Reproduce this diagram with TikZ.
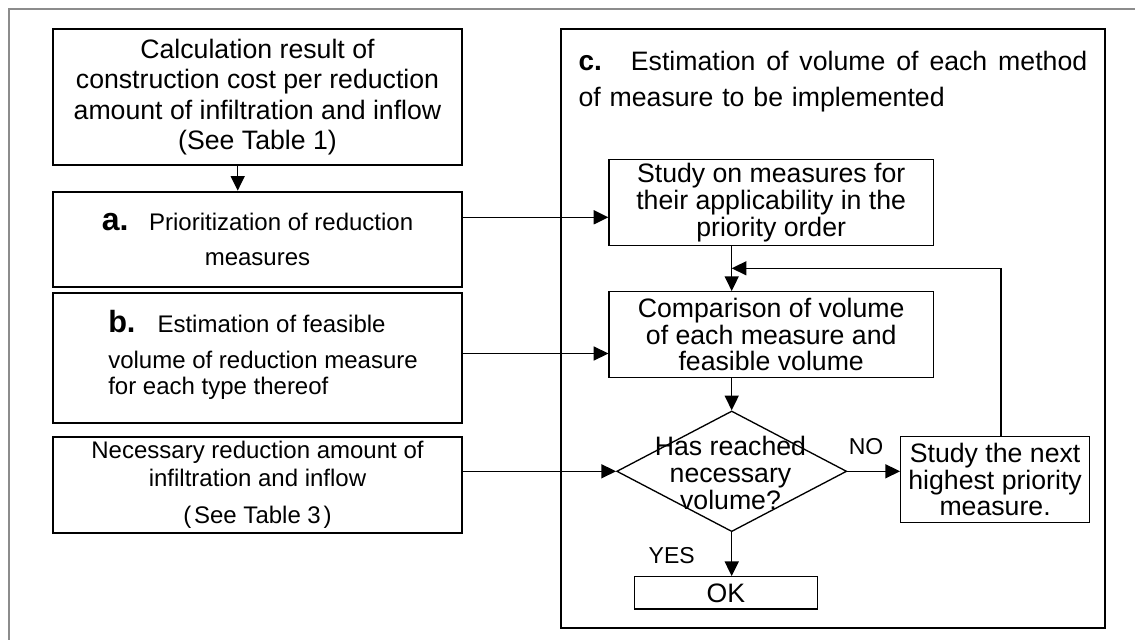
\documentclass[tikz,border=0pt]{standalone}
\usepackage{fontspec}
\setmainfont{Liberation Sans}
\usetikzlibrary{shapes.geometric,arrows.meta,calc}
\definecolor{framegray}{RGB}{140,140,140}
\begin{document}
\begin{tikzpicture}[x=0.75pt,y=-0.75pt,
  lbox/.style={draw, line width=1.5pt, rectangle, minimum width=306.3pt, inner sep=0pt, align=center},
  rbox/.style={draw, line width=1pt, rectangle, inner sep=0pt, align=center, font=\fontsize{20}{20}\selectfont},
  arr/.style={line width=1.1pt, -{Triangle[length=11pt,width=10.5pt]}},
  lbl/.style={inner sep=0pt, font=\fontsize{17.25}{17.25}\selectfont}]
\clip (0,0) rectangle (1135,639);
\fill[white] (0,0) rectangle (1135,639);
\draw[line width=1.5pt, framegray] (9,9.3) rectangle (1160,670);

% left column
\node[lbox, minimum height=101.8pt, font=\fontsize{20}{22.9}\selectfont] (calc) at (257.5,97.2)
  {Calculation result of\\construction cost per reduction\\amount of infiltration and inflow\\(See Table 1)};
\node[lbox, minimum height=71.7pt, font=\fontsize{18}{26.25}\selectfont] (prio) at (257.5,239.5)
  {{\fontsize{24}{24}\selectfont\bfseries a.}\hspace{15.5pt}Prioritization of reduction\\measures};
\node[lbox, minimum height=97.05pt] (feas) at (257.5,358) {};
\node[inner sep=0pt, align=left, font=\fontsize{18}{19.5}\selectfont] (feastext) at (263,355)
  {{\fontsize{23}{23}\selectfont\bfseries b.}\hspace{16.5pt}Estimation of feasible\\[8pt]volume of reduction measure\\for each type thereof};
\node[lbox, minimum height=72pt, font=\fontsize{18}{21.3}\selectfont] (nec) at (257.5,484.7)
  {Necessary reduction amount of\\infiltration and inflow\\[6pt](\kern2pt See Table 3\kern2pt)};

% right frame c
\node[draw, line width=1.5pt, rectangle, minimum width=408pt, minimum height=449.25pt, inner sep=0pt] (cbox) at (833,328.5) {};
\node[anchor=north west, inner sep=0pt, align=left, text width=381.5pt, font=\fontsize{20}{27}\selectfont] (ctitle) at (578.3,51)
  {\makebox[381.5pt][l]{{\fontsize{21}{21}\selectfont\bfseries c.}\hspace{21.75pt}Estimation\hfill of\hfill volume\hfill of\hfill each\hfill method}\\of measure to be implemented};

\node[rbox, minimum width=243.2pt, minimum height=64.8pt] (study) at (771.2,202.5)
  {Study on measures for\\their applicability in the\\priority order};
\node[rbox, minimum width=243.2pt, minimum height=64.5pt] (comp) at (771.2,334.7)
  {Comparison of volume\\of each measure and\\feasible volume};
\node[draw, diamond, line width=1pt, minimum width=172.5pt, minimum height=90.5pt, inner sep=0pt] (dia) at (731.7,471.3) {};
\node[inner sep=0pt, align=center, font=\fontsize{20}{20}\selectfont] (dtext) at (730.5,473)
  {Has reached\\necessary\\volume?};
\node[rbox, minimum width=141.6pt, minimum height=64.2pt] (next) at (995.1,479.5)
  {Study the next\\highest priority\\measure.};
\node[rbox, minimum width=137.55pt, minimum height=24.2pt] (ok) at (726,592.9) {OK};
\node[lbl] (no) at (866,446.7) {NO};
\node[lbl] (yes) at (671.7,556) {YES};

% connectors
\coordinate (xa) at (237.7,0);
\draw[arr] (calc.south -| xa) -- (prio.north -| xa);
\coordinate (ya) at (0,217.3);
\draw[arr] (prio.east |- ya) -- (study.west |- ya);
\coordinate (yb) at (0,353.5);
\draw[arr] (feas.east |- yb) -- (comp.west |- yb);
\draw[arr] (nec.east |- dia.west) -- (dia.west);
\coordinate (xc) at (731.7,0);
\draw[arr] (study.south -| xc) -- (comp.north -| xc);
\draw[arr] (comp.south -| dia.north) -- (dia.north);
\draw[arr] (dia.east) -- (next.west |- dia.east);
\coordinate (fb) at (1001,268.3);
\draw[arr] (next.north -| fb) -- (fb) -- (xc |- fb);
\draw[arr] (dia.south) -- (ok.north -| dia.south);
\end{tikzpicture}
\end{document}
